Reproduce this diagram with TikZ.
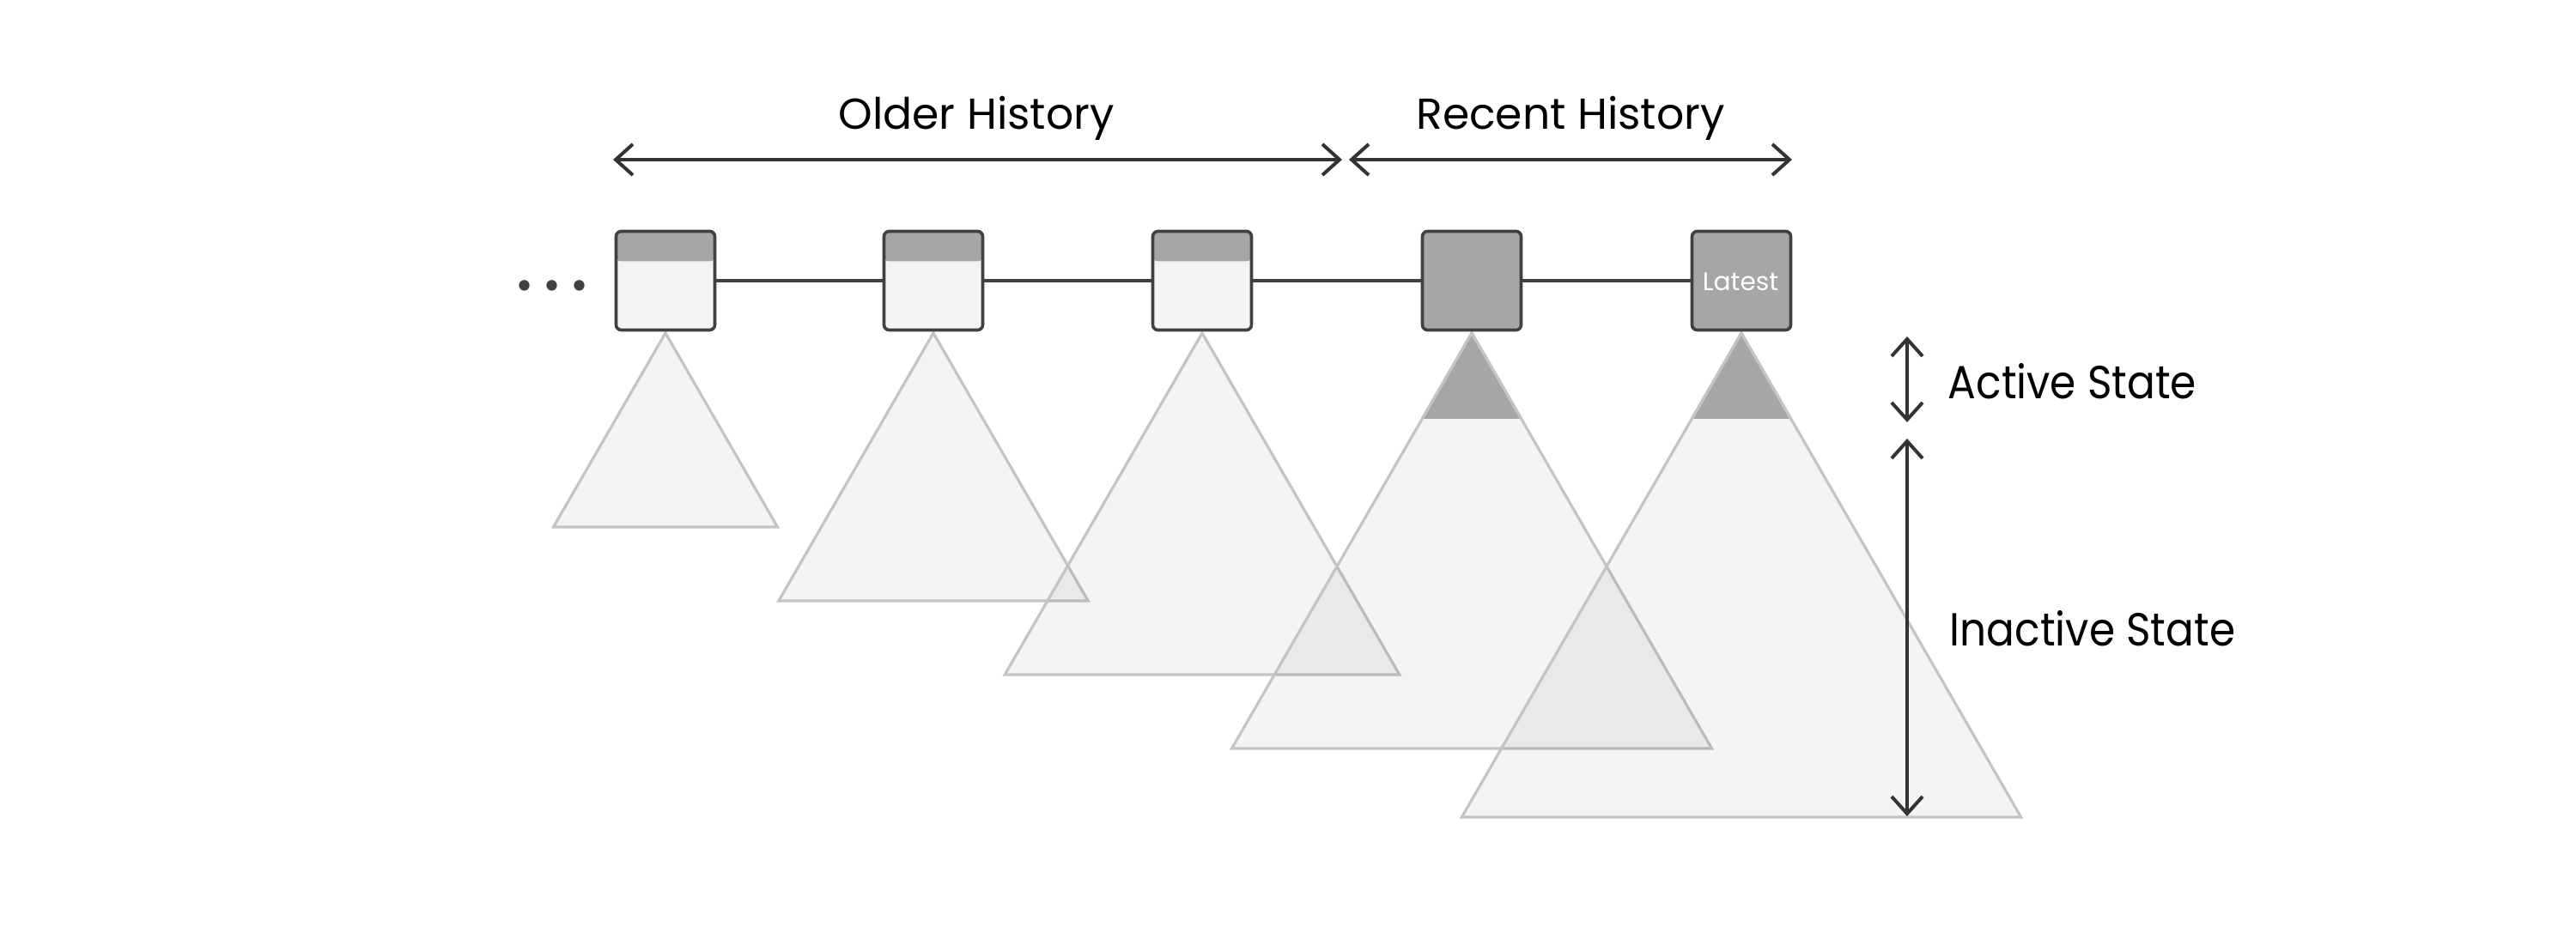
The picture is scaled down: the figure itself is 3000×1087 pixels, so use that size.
\documentclass[tikz,border=0pt]{standalone}
\usepackage{fontspec}
\setmainfont{Poppins}
\usetikzlibrary{arrows.meta,calc}
\definecolor{darkline}{HTML}{404040}
\definecolor{arrowc}{HTML}{333333}
\definecolor{headgray}{HTML}{A6A6A6}
\definecolor{lightfill}{HTML}{F4F4F4}
\definecolor{tristroke}{HTML}{C4C4C4}
\begin{document}
\begin{tikzpicture}[x=0.25pt,y=-0.25pt,
  blockbase/.style={rectangle,draw=darkline,line width=0.9pt,rounded corners=1.5pt,
    minimum width=28.75pt,minimum height=28.75pt,inner sep=0pt},
  oldblock/.style={blockbase,fill=lightfill,
    path picture={\fill[headgray] ([yshift=-8.75pt]path picture bounding box.north west) rectangle (path picture bounding box.north east);}},
  newblock/.style={blockbase,fill=headgray},
  link/.style={draw=darkline,line width=0.9pt},
  span/.style={draw=arrowc,line width=1pt,{Straight Barb[length=5pt,width=9pt,line width=1pt]}-{Straight Barb[length=5pt,width=9pt,line width=1pt]}},
  tri/.style={fill=black,fill opacity=0.043,draw=tristroke,line width=0.8pt,line join=miter},
  tristr/.style={draw=tristroke,line width=0.8pt},
  heading/.style={font=\fontsize{12.6}{15}\selectfont,text=black,inner sep=0pt,anchor=base},
  sidelabel/.style={font=\fontsize{13.5}{16}\selectfont,text=black,inner sep=0pt,anchor=base west}
]
\useasboundingbox (0,0) rectangle (3000,1087);

% triangles (behind)
\foreach \cx/\h/\n in {775/226/1,1087/312/2,1400/398/3,1714/484/4,2028/564/5}{
  \coordinate (t\n) at (\cx,388);
  \path[tri] (t\n) -- ++({-\h*0.57735},\h) -- ++({2*\h*0.57735},0) -- cycle;
}
% active tops
\foreach \n in {4,5}{
  \fill[headgray] (t\n) -- ++(-57.7,100) -- ++(115.4,0) -- cycle;
  \draw[tristr] ($(t\n)+(-57.7,100)$) -- (t\n) -- ++(57.7,100);
}

% blocks
\node[oldblock] (b1) at (775,327) {};
\node[oldblock] (b2) at (1087,327) {};
\node[oldblock] (b3) at (1400,327) {};
\node[newblock] (b4) at (1714,327) {};
\node[newblock] (b5) at (2028,327) {};
\node[font=\fontsize{7.4}{9}\selectfont,text=white,inner sep=0pt,anchor=base] (lat) at (2027,339) {Latest};

\draw[link] (b1) -- (b2);
\draw[link] (b2) -- (b3);
\draw[link] (b3) -- (b4);
\draw[link] (b4) -- (b5);

% dots
\node[text=darkline,font=\fontsize{25}{25}\selectfont,inner sep=0pt] (dots) at (643,333) {.\hspace{2.65pt}.\hspace{2.65pt}.};

% history spans
\coordinate (oa) at (714,186);
\coordinate (ob) at (1563,186);
\coordinate (ra) at (1571,186);
\coordinate (rb) at (2087,186);
\draw[span] (oa) -- (ob);
\draw[span] (ra) -- (rb);
\node[heading] (older) at (1137,151) {Older History};
\node[heading] (recent) at (1829,151) {Recent History};

% state spans
\coordinate (aa) at (2221,392);
\coordinate (ab) at (2221,492);
\coordinate (ia) at (2221,511);
\coordinate (ib) at (2221,951);
\draw[span] (aa) -- (ab);
\draw[span] (ia) -- (ib);
\node[sidelabel] (act) at (2268,465) {\scalebox{0.9}[1]{Active State}};
\node[sidelabel] (inact) at (2270,753) {\scalebox{0.9}[1]{Inactive State}};
\end{tikzpicture}
\end{document}
